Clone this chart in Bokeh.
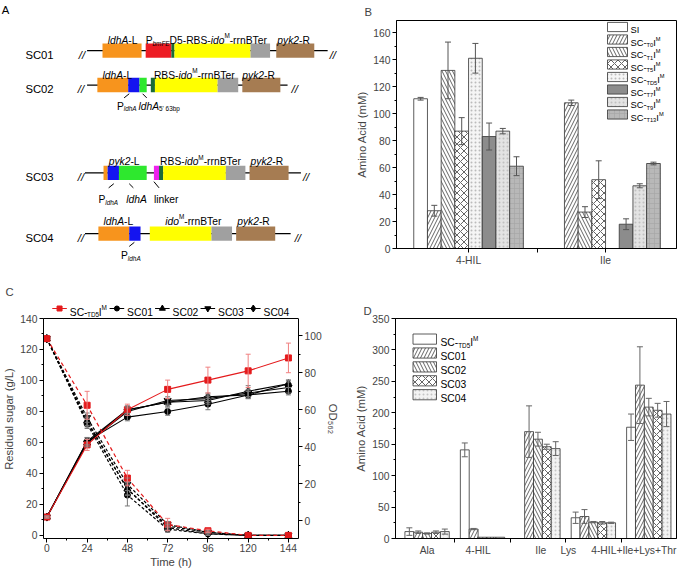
import numpy as np
from bokeh.plotting import figure
from bokeh.models import (Range1d, LinearAxis, FixedTicker, SingleIntervalTicker,
                          Label, Whisker, TeeHead, ColumnDataSource, Span)
from bokeh.layouts import column, row
from bokeh.embed import file_html
from bokeh.resources import INLINE

FONT = "Liberation Sans"

# ---------------- Panel B data ----------------
B_CATS = ["4-HIL", "Ile"]
B_SERIES = ["SI", "T0", "T1", "T5", "TD5", "T7", "T9", "T13"]
B_SI = [111, 0]
B_T0 = [28, 108]
B_T1 = [132, 27]
B_T5 = [87, 51]
B_TD5 = [141, 0]
B_T7 = [83, 18]
B_T9 = [87, 46.5]
B_T13 = [61, 63]
B_SI_ERR = [1, 0]
B_T0_ERR = [4, 2]
B_T1_ERR = [21, 4]
B_T5_ERR = [10, 14]
B_TD5_ERR = [11, 0]
B_T7_ERR = [10, 4]
B_T9_ERR = [2, 1.5]
B_T13_ERR = [7, 1]

# ---------------- Panel C data ----------------
TIME_H = [0, 24, 48, 72, 96, 120, 144]
C_SERIES = ["TD5", "SC01", "SC02", "SC03", "SC04"]
SUGAR_TD5 = [127, 84, 37, 7, 3, 0, 0]
SUGAR_SC01 = [127, 72, 26, 4, 1, 0, 0]
SUGAR_SC02 = [127, 74, 30, 6, 2, 0, 0]
SUGAR_SC03 = [127, 76, 33, 7, 2, 0, 0]
SUGAR_SC04 = [127, 73, 30, 5, 1, 0, 0]
SUGAR_ERR_TD5 = [0, 9, 5, 4, 1, 0, 0]
SUGAR_ERR_SC01 = [0, 3, 7, 2, 1, 0, 0]
SUGAR_ERR_SC02 = [0, 3, 4, 2, 1, 0, 0]
SUGAR_ERR_SC03 = [0, 3, 4, 2, 1, 0, 0]
SUGAR_ERR_SC04 = [0, 3, 4, 2, 1, 0, 0]
OD_TD5 = [2, 41, 60, 71, 76, 81, 88]
OD_SC01 = [2, 43, 56, 59, 63, 68, 70]
OD_SC02 = [2, 42, 60, 64, 65, 70, 74]
OD_SC03 = [2, 42, 59, 65, 66, 69, 72]
OD_SC04 = [2, 43, 60, 64, 67, 68, 74]
OD_ERR_TD5 = [0.5, 3, 3, 5, 7, 9, 8]
OD_ERR_SC01 = [0.5, 2, 2, 2, 3, 2, 2]
OD_ERR_SC02 = [0.5, 2, 2, 2, 2, 3, 2]
OD_ERR_SC03 = [0.5, 2, 2, 2, 2, 2, 3]
OD_ERR_SC04 = [0.5, 2, 2, 2, 2, 2, 2]

# ---------------- Panel D data ----------------
D_CATS = ["Ala", "4-HIL", "Ile", "Lys", "4-HIL+Ile+Lys+Thr"]
D_SERIES = ["TD5", "SC01", "SC02", "SC03", "SC04"]
D_TD5 = [11, 141, 0, 33, 177]
D_SC01 = [10, 15, 170, 35, 244]
D_SC02 = [8, 2, 158, 26, 209]
D_SC03 = [10, 2, 146, 25, 204]
D_SC04 = [11, 2, 143, 25, 198]
D_TD5_ERR = [6, 11, 0, 9, 21]
D_SC01_ERR = [2, 1, 41, 11, 61]
D_SC02_ERR = [1, 0, 11, 1, 14]
D_SC03_ERR = [2, 0, 4, 2, 11]
D_SC04_ERR = [4, 0, 11, 1, 20]

B_VALS = dict(zip(B_SERIES, [B_SI, B_T0, B_T1, B_T5, B_TD5, B_T7, B_T9, B_T13]))
B_ERRS = dict(zip(B_SERIES, [B_SI_ERR, B_T0_ERR, B_T1_ERR, B_T5_ERR, B_TD5_ERR,
                             B_T7_ERR, B_T9_ERR, B_T13_ERR]))
SUGAR = dict(zip(C_SERIES, [SUGAR_TD5, SUGAR_SC01, SUGAR_SC02, SUGAR_SC03, SUGAR_SC04]))
SUGAR_ERR = dict(zip(C_SERIES, [SUGAR_ERR_TD5, SUGAR_ERR_SC01, SUGAR_ERR_SC02,
                                SUGAR_ERR_SC03, SUGAR_ERR_SC04]))
OD = dict(zip(C_SERIES, [OD_TD5, OD_SC01, OD_SC02, OD_SC03, OD_SC04]))
OD_ERR = dict(zip(C_SERIES, [OD_ERR_TD5, OD_ERR_SC01, OD_ERR_SC02, OD_ERR_SC03, OD_ERR_SC04]))
D_VALS = dict(zip(D_SERIES, [D_TD5, D_SC01, D_SC02, D_SC03, D_SC04]))
D_ERRS = dict(zip(D_SERIES, [D_TD5_ERR, D_SC01_ERR, D_SC02_ERR, D_SC03_ERR, D_SC04_ERR]))

# ---------------- Panel A: construct diagrams (drawing units) ----------------
GENE_COL = {"ldhAL": "#F7941D", "Pbm": "#ED1C24", "rbs": "#1B6B38", "ido": "#FFFF00",
            "ter": "#A0A0A0", "pyk2": "#A67C52", "Pldh": "#1414F0", "ldhA": "#2EE82E",
            "linker": "#EE22EE"}
LDHA_L = [("ldhA", "i"), ("-L", "n")]
PYK2_L = [("pyk2", "i"), ("-L", "n")]
PYK2_R = [("pyk2", "i"), ("-R", "n")]
RBS_IDO = [("RBS-", "n"), ("ido", "i"), ("M", "sup"), ("-rrnBTer", "n")]
P_LDHA = [("P", "n"), ("ldhA", "isub")]
CONSTRUCTS = [
    dict(name="SC01", yc=56.5, line=(92, 326), slashes=(87, 331), top_base=46.5,
         segs=[(107, 145, "ldhAL"), (149, 174, "Pbm"), (174, 177, "rbs"), (177, 251, "ido"),
               (251, 270, "ter"), (276, 313, "pyk2")],
         top=[(112, LDHA_L),
              (149, [("P", "n"), ("bmFE", "isub"), ("D5-RBS-", "n"), ("ido", "i"),
                     ("M", "sup"), ("-rrnBTer", "n")]),
              (277, PYK2_R)],
         bottom=[], ticks=[]),
    dict(name="SC02", yc=90, line=(92, 287), slashes=(86, 294), top_base=80.5,
         segs=[(102, 132, "ldhAL"), (132, 143, "Pldh"), (143, 150, "ldhA"), (154, 158, "rbs"),
               (158, 219, "ido"), (219, 239, "ter"), (243, 280, "pyk2")],
         top=[(107, LDHA_L), (157, RBS_IDO), (243, PYK2_R)],
         bottom=[(121, 110.5, P_LDHA), (142, 110.5, [("ldhA", "i"), ("5' 63bp", "sub")])],
         ticks=[(133, 98.5, 128, 102.5), (146, 98.5, 150, 102.5)]),
    dict(name="SC03", yc=175.5, line=(90, 300), slashes=(86, 305), top_base=164.5,
         segs=[(108, 112, "ldhAL"), (112, 123, "Pldh"), (123, 150, "ldhA"), (157, 162, "linker"),
               (162, 166, "rbs"), (166, 227, "ido"), (227, 246, "ter"), (250, 288, "pyk2")],
         top=[(113, PYK2_L), (163, RBS_IDO), (251, PYK2_R)],
         bottom=[(103, 201.5, P_LDHA), (130, 201.5, [("ldhA", "i")]), (157, 201.5, [("linker", "n")])],
         ticks=[(118, 186, 113, 190), (133, 186, 137, 190), (157, 184, 162, 190)]),
    dict(name="SC04", yc=234.5, line=(90, 290), slashes=(86, 297), top_base=222.5,
         segs=[(103, 133, "ldhAL"), (133, 144, "Pldh"), (153, 213, "ido"), (213, 233, "ter"),
               (237, 275, "pyk2")],
         top=[(108, LDHA_L), (168, [("ido", "i"), ("M", "sup"), ("-rrnBTer", "n")]), (238, PYK2_R)],
         bottom=[(125, 256, P_LDHA)],
         ticks=[(138, 243, 133, 247)]),
]

# ---------------- helpers ----------------
S = 0.9727          # page -> picture scale observed for this page
F = 1 / S
W = {' ': .278, '-': .333, '+': .584, "'": .191, '(': .333, ')': .333, '/': .278,
     'A': .667, 'B': .667, 'C': .722, 'D': .722, 'E': .667, 'F': .611, 'H': .722, 'I': .278,
     'L': .556, 'M': .833, 'O': .778, 'P': .667, 'R': .722, 'S': .667, 'T': .611,
     'a': .556, 'b': .556, 'c': .5, 'd': .556, 'e': .556, 'h': .556, 'i': .222, 'k': .5,
     'l': .222, 'm': .833, 'n': .556, 'o': .556, 'p': .556, 'r': .333, 's': .5, 't': .278,
     'y': .5}


def px(v):
    return f"{v * F:.1f}px"


def tw(s, size):
    return sum(W.get(c, 0.556) for c in s) * size


def make_conv(L, R, T, Bm, xr, yr):
    def conv(ax, ay):
        x = xr[0] + (ax - L) / (R - L) * (xr[1] - xr[0])
        y = yr[0] + (Bm - ay) / (Bm - T) * (yr[1] - yr[0])
        return x, y
    return conv


def fsz(k, size):
    return size * 0.62 if k in ("sub", "isub", "sup") else size


def rich(p, conv, ax, ay, pieces, size, align="left", color="black", k_px=1.0):
    # size: font size in picture px; k_px: drawing units per page px
    total = sum(tw(t, fsz(k, size) * F) for t, k in pieces) * k_px
    x = ax - {"left": 0, "center": total / 2, "right": total}[align]
    for t, k in pieces:
        fs = fsz(k, size) * F
        dy = {"sub": 0.28, "isub": 0.28, "sup": -0.42}.get(k, 0) * size * F * k_px
        X, Y = conv(x, ay + dy)
        p.add_layout(Label(x=X, y=Y, text=t, text_font=FONT, text_font_size=f"{fs:.1f}px",
                           text_font_style="italic" if k in ("i", "isub") else "normal",
                           text_align="left", text_baseline="alphabetic", text_color=color))
        x += tw(t, fs) * k_px
    return total


def style_axis(ax):
    ax.axis_line_color = "black"
    ax.major_tick_in = 0
    ax.major_tick_out = 4
    ax.minor_tick_in = 0
    ax.minor_tick_out = 2
    ax.major_tick_line_color = "black"
    ax.minor_tick_line_color = "black"
    ax.major_label_text_font = FONT
    ax.major_label_text_font_size = px(10)
    ax.axis_label_text_font = FONT
    ax.axis_label_text_font_size = px(11)
    ax.axis_label_text_font_style = "normal"
    ax.major_label_standoff = 2
    ax.axis_label_standoff = 2


def mkfig(w, h, xr, yr, mb):
    p = figure(width=w, height=h, x_range=Range1d(*xr), y_range=Range1d(*yr),
               output_backend="svg", toolbar_location=None, frame_align=False,
               min_border_left=mb[0], min_border_right=mb[1],
               min_border_top=mb[2], min_border_bottom=mb[3])
    p.xgrid.visible = False
    p.ygrid.visible = False
    p.outline_line_color = "black"
    return p


def panel_letter(p, letter, offset, valign):
    p.title.text = letter
    p.title.align = "left"
    p.title.offset = offset
    p.title.text_font = FONT
    p.title.text_font_size = px(11)
    p.title.text_font_style = "normal"
    p.title.vertical_align = valign
    p.title.standoff = 2


def whisk(p, x, v, e, color, size=6, y_range_name="default"):
    x = np.asarray(x, float); v = np.asarray(v, float); e = np.asarray(e, float)
    m = e > 0
    src = ColumnDataSource(dict(base=x[m], upper=(v + e)[m], lower=(v - e)[m]))
    w = Whisker(source=src, base="base", upper="upper", lower="lower", dimension="height",
                line_color=color, line_width=1, level="overlay", y_range_name=y_range_name,
                upper_head=TeeHead(size=size, line_color=color, line_width=1),
                lower_head=TeeHead(size=size, line_color=color, line_width=1))
    p.add_layout(w)


def sc_label(code):
    return [("SC-", "n"), (code, "sub"), ("I", "n"), ("M", "sup")]


# page layout (page px incl. 8px body margin)
X0, Y0 = 8, 8
XM, XE = 349, 688
YM, YE = 288, 578

# ================= Panel A =================
A_XR = (X0 * S, XM * S)
A_YR = (YM * S, Y0 * S)
pA = figure(width=XM - X0, height=YM - Y0, x_range=Range1d(*A_XR), y_range=Range1d(*A_YR),
            output_backend="svg", toolbar_location=None, x_axis_type=None, y_axis_type=None,
            min_border=0, frame_align=False, title=None)
pA.outline_line_color = None
pA.xgrid.visible = False
pA.ygrid.visible = False
ident = lambda x, y: (x, y)
rich(pA, ident, 9, 17, [("A", "n")], 11, k_px=S)
for c in CONSTRUCTS:
    yc = c["yc"]
    pA.segment(x0=[c["line"][0]], y0=[yc], x1=[c["line"][1]], y1=[yc], line_color="black", line_width=1.2)
    for sx in c["slashes"]:
        rich(pA, ident, sx, yc + 4, [("//", "i")], 11, align="center", k_px=S)
    rich(pA, ident, 32, yc + 4, [(c["name"], "n")], 11, k_px=S)
    pA.quad(left=[s[0] for s in c["segs"]], right=[s[1] for s in c["segs"]],
            top=[yc - 7] * len(c["segs"]), bottom=[yc + 7] * len(c["segs"]),
            fill_color=[GENE_COL[s[2]] for s in c["segs"]], line_color=None)
    for x0, pieces in c["top"]:
        rich(pA, ident, x0, c["top_base"], pieces, 10, k_px=S)
    for x0, yb, pieces in c["bottom"]:
        rich(pA, ident, x0, yb, pieces, 10, k_px=S)
    if c["ticks"]:
        pA.segment(x0=[t[0] for t in c["ticks"]], y0=[t[1] for t in c["ticks"]],
                   x1=[t[2] for t in c["ticks"]], y1=[t[3] for t in c["ticks"]],
                   line_color="black", line_width=1)

# ================= Panel B =================
B_L, B_R, B_T, B_B = 404, 684, 28, 256
B_XR = (0.474, 2.518)
B_YR = (0, 169)
pB = mkfig(XE - XM, YM - Y0, B_XR, B_YR, (B_L - XM, XE - B_R, B_T - Y0, YM - B_B))
convB = make_conv(B_L, B_R, B_T, B_B, B_XR, B_YR)
B_STYLE = {
    "SI": dict(fill="white", hatch=None, hc="black", hs=6),
    "T0": dict(fill="white", hatch="/", hc="#222222", hs=7),
    "T1": dict(fill="white", hatch="\\", hc="#222222", hs=7),
    "T5": dict(fill="white", hatch="x", hc="#222222", hs=7),
    "TD5": dict(fill="#f5f5f5", hatch=".", hc="#bbbbbb", hs=4),
    "T7": dict(fill="#8c8c8c", hatch=None, hc="black", hs=6),
    "T9": dict(fill="#e3e3e3", hatch=".", hc="#c0c0c0", hs=4),
    "T13": dict(fill="#b8b8b8", hatch="+", hc="#a6a6a6", hs=5),
}
B_X = np.arange(1, len(B_CATS) + 1)
BW = 0.1
for i, s in enumerate(B_SERIES):
    xs = B_X + (i - (len(B_SERIES) - 1) / 2) * BW
    st = B_STYLE[s]
    pB.vbar(x=xs, top=B_VALS[s], bottom=0, width=BW, fill_color=st["fill"],
            hatch_pattern=st["hatch"], hatch_color=st["hc"], hatch_scale=st["hs"],
            hatch_weight=0.7, line_color="#333333", line_width=0.8)
    whisk(pB, xs, B_VALS[s], B_ERRS[s], "#555555", size=6)
    yc = B_T + 6.5 + i * 12.5
    x0, y0 = convB(B_R - 69, yc + 4.6)
    x1, y1 = convB(B_R - 49, yc - 4.6)
    pB.quad(left=[x0], right=[x1], bottom=[y0], top=[y1], fill_color=st["fill"],
            hatch_pattern=st["hatch"], hatch_color=st["hc"], hatch_scale=st["hs"],
            hatch_weight=0.7, line_color="#333333", line_width=0.8)
    rich(pB, convB, B_R - 46, yc + 3.3, [("SI", "n")] if s == "SI" else sc_label(s), 9)
for ax in pB.axis:
    style_axis(ax)
pB.yaxis.ticker = SingleIntervalTicker(interval=20, num_minor_ticks=2)
pB.yaxis.axis_label = "Amino Acid (mM)"
pB.xaxis.ticker = FixedTicker(ticks=list(B_X), minor_ticks=list(B_X[:-1] + 0.5))
pB.xaxis.major_label_overrides = {int(x): c for x, c in zip(B_X, B_CATS)}
pB.xaxis.minor_tick_out = 4
panel_letter(pB, "B", -32, "top")

# ================= Panel C =================
C_L, C_R, C_T, C_AX, C_B = 47, 309, 307, 326, 546
C_XR = (-2, 150)
C_YR = (-2, 140 + (C_AX - C_T) * 142 / (C_B - C_AX))
OD_YR = (-9.6, 109.3 + (C_AX - C_T) * 118.9 / (C_B - C_AX))
pC = mkfig(XM - X0, YE - YM, C_XR, C_YR, (C_L - X0, XM - C_R, C_T - YM, YE - C_B))
pC.outline_line_color = None
pC.extra_y_ranges = {"od": Range1d(*OD_YR)}
pC.add_layout(LinearAxis(y_range_name="od", axis_label="OD\u2085\u2086\u2082"), "right")
convC = make_conv(C_L, C_R, C_T, C_B, C_XR, C_YR)
MARK = {"TD5": "square", "SC01": "circle", "SC02": "triangle", "SC03": "inverted_triangle",
        "SC04": "diamond"}
MSIZE = {"TD5": 6, "SC01": 6, "SC02": 7, "SC03": 7, "SC04": 8}
for s in C_SERIES[::-1]:
    col = "#E41A1C" if s == "TD5" else "black"
    ecol = "#F08080" if s == "TD5" else "#777777"
    pC.line(TIME_H, SUGAR[s], line_color=col, line_width=1.2,
            line_dash="4 3" if s == "TD5" else "3 2")
    whisk(pC, TIME_H, SUGAR[s], SUGAR_ERR[s], ecol, size=5)
    pC.scatter(TIME_H, SUGAR[s], marker=MARK[s], size=MSIZE[s], fill_color=col, line_color=col)
    pC.line(TIME_H, OD[s], line_color=col, line_width=1.1, y_range_name="od")
    whisk(pC, TIME_H, OD[s], OD_ERR[s], ecol, size=5, y_range_name="od")
    pC.scatter(TIME_H, OD[s], marker=MARK[s], size=MSIZE[s], fill_color=col, line_color=col,
               y_range_name="od")
for ax in pC.axis:
    style_axis(ax)
pC.xaxis.major_label_standoff = 1
pC.xaxis.axis_label_standoff = 1
pC.yaxis[0].ticker = SingleIntervalTicker(interval=20, num_minor_ticks=2)
pC.yaxis[0].bounds = (C_YR[0], 140)
pC.yaxis[0].axis_label = "Residual sugar (g/L)"
pC.yaxis[1].ticker = SingleIntervalTicker(interval=20, num_minor_ticks=2)
pC.yaxis[1].bounds = (OD_YR[0], 109.3)
pC.xaxis.ticker = FixedTicker(ticks=list(range(0, 145, 24)), minor_ticks=list(range(12, 145, 24)))
pC.xaxis.axis_label = "Time (h)"
pC.add_layout(Span(location=140, dimension="width", line_color="black", line_width=1))
cur = 56
LEG_Y = C_AX - 10
for s in C_SERIES:
    col = "#E41A1C" if s == "TD5" else "black"
    Xa, Y = convC(cur, LEG_Y)
    Xb, _ = convC(cur + 15, LEG_Y)
    pC.line([Xa, Xb], [Y, Y], line_color=col, line_width=1.1)
    pC.scatter([(Xa + Xb) / 2], [Y], marker=MARK[s], size=MSIZE[s] - 1, fill_color=col, line_color=col)
    pieces = sc_label(s) if s == "TD5" else [(s, "n")]
    wdt = rich(pC, convC, cur + 18, LEG_Y + 3.6, pieces, 10)
    cur = cur + 18 + wdt + 3
panel_letter(pC, "C", -38, "middle")

# ================= Panel D =================
D_L, D_R, D_T, D_B = 403, 684, 326, 546
D_XR = (0.43, 5.5)
D_YR = (0, 350)
pD = mkfig(XE - XM, YE - YM, D_XR, D_YR, (D_L - XM, XE - D_R, D_T - YM, YE - D_B))
convD = make_conv(D_L, D_R, D_T, D_B, D_XR, D_YR)
D_STYLE = {
    "TD5": dict(fill="white", hatch=None, hc="black", hs=6),
    "SC01": dict(fill="white", hatch="/", hc="#222222", hs=7),
    "SC02": dict(fill="white", hatch="\\", hc="#222222", hs=7),
    "SC03": dict(fill="white", hatch="x", hc="#222222", hs=7),
    "SC04": dict(fill="#f3f3f3", hatch=".", hc="#c4c4c4", hs=4),
}
D_X = np.arange(1, len(D_CATS) + 1)
D_LABEL_SHIFT = [0.0, -0.08, 0.05, -0.45, -0.27]   # label placement (style)
DW = 0.16
for i, s in enumerate(D_SERIES):
    xs = D_X + (i - (len(D_SERIES) - 1) / 2) * DW
    st = D_STYLE[s]
    pD.vbar(x=xs, top=D_VALS[s], bottom=0, width=DW, fill_color=st["fill"],
            hatch_pattern=st["hatch"], hatch_color=st["hc"], hatch_scale=st["hs"],
            hatch_weight=0.7, line_color="#333333", line_width=0.8)
    whisk(pD, xs, D_VALS[s], D_ERRS[s], "#666666", size=6)
    yc = D_T + 20.6 + i * 13.9
    x0, y0 = convD(D_L + 17.5, yc + 5.1)
    x1, y1 = convD(D_L + 41, yc - 5.1)
    pD.quad(left=[x0], right=[x1], bottom=[y0], top=[y1], fill_color=st["fill"],
            hatch_pattern=st["hatch"], hatch_color=st["hc"], hatch_scale=st["hs"],
            hatch_weight=0.7, line_color="#333333", line_width=0.8)
    rich(pD, convD, D_L + 45, yc + 3.7, sc_label(s) if s == "TD5" else [(s, "n")], 10)
for ax in pD.axis:
    style_axis(ax)
pD.yaxis.ticker = SingleIntervalTicker(interval=50, num_minor_ticks=2)
pD.yaxis.axis_label = "Amino Acid (mM)"
lab_pos = [float(round(x + d, 3)) for x, d in zip(D_X, D_LABEL_SHIFT)]
pD.xaxis.ticker = FixedTicker(ticks=lab_pos, minor_ticks=list(D_X[:-1] + 0.5))
pD.xaxis.major_label_overrides = {pos: c for pos, c in zip(lab_pos, D_CATS)}
pD.xaxis.major_tick_out = 0
pD.xaxis.minor_tick_out = 4
panel_letter(pD, "D", -32, "middle")

layout = column(row(pA, pB), row(pC, pD))
open("out.html", "w").write(file_html(layout, INLINE, title="chart"))
